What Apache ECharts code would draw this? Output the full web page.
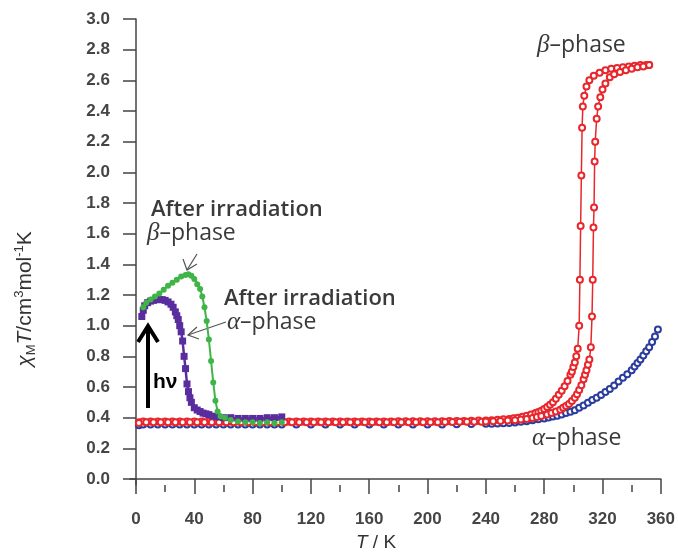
<!DOCTYPE html>
<html>
<head>
<meta charset="utf-8">
<script src="https://cdn.jsdelivr.net/npm/echarts@6/dist/echarts.min.js"></script>
<style>
  html, body { margin: 0; padding: 0; background: #fff; }
  #chart { width: 678px; height: 553px; }
</style>
</head>
<body>
<div id="chart"></div>
<script>
// tick positions
let xTicks = [0, 40, 80, 120, 160, 200, 240, 280, 320, 360];
let xMinorTicks = [20, 60, 100, 140, 180, 220, 260, 300, 340];
let yTicks = [0, 0.2, 0.4, 0.6, 0.8, 1.0, 1.2, 1.4, 1.6, 1.8, 2.0, 2.2, 2.4, 2.6, 2.8, 3.0];

// alpha-phase
let alphaT = [2, 5, 10, 15, 20, 25, 30, 35, 40, 45, 50, 55, 60, 65, 70, 75, 80, 85, 90, 95, 100, 110, 120, 130, 140, 150, 160, 170, 180, 190, 200, 210, 220, 230,
    240, 244, 248, 252, 256, 260, 264, 268, 272, 276, 280, 283, 286, 289, 292, 295, 298, 301, 304, 307, 310, 313, 316, 319, 322, 325, 328, 331, 334, 337, 340, 342, 344, 346, 348, 350, 352, 354, 356, 358];
let alphaChi = [0.35, 0.355, 0.355, 0.355, 0.355, 0.355, 0.355, 0.355, 0.355, 0.355, 0.355, 0.355, 0.355, 0.355, 0.355, 0.355, 0.355, 0.355, 0.355, 0.355, 0.355, 0.355, 0.355, 0.355, 0.355, 0.355, 0.355, 0.355, 0.355, 0.355, 0.356, 0.356, 0.357, 0.358,
    0.36, 0.361, 0.362, 0.364, 0.366, 0.369, 0.373, 0.377, 0.383, 0.39, 0.395, 0.401, 0.407, 0.413, 0.421, 0.43, 0.438, 0.449, 0.465, 0.48, 0.497, 0.515, 0.53, 0.548, 0.567, 0.587, 0.61, 0.636, 0.66, 0.684, 0.71, 0.733, 0.756, 0.78, 0.806, 0.833, 0.86, 0.893, 0.93, 0.975];

// beta-phase, cooling branch
let betaCoolT = [2, 5, 10, 15, 20, 25, 30, 35, 40, 45, 50, 55, 60, 65, 70, 75, 80, 85, 90, 95, 100, 105, 110, 115, 120, 125, 130, 135, 140, 145, 150, 155, 160, 165, 170, 175, 180, 185, 190, 195, 200, 205, 210, 215, 220, 225, 230, 235,
    240, 244, 248, 252, 256, 259, 262, 265, 268, 271, 274, 276, 278, 280, 282, 284, 286, 288, 290, 292, 294, 296, 298, 299, 300, 301, 302, 303,
    304, 304.5, 305, 305.5, 306, 306.5, 307.5, 309, 311, 314, 318, 322, 326, 330, 334, 338, 342, 346, 350, 352];
let betaCoolChi = [0.37, 0.375, 0.375, 0.375, 0.375, 0.375, 0.375, 0.375, 0.375, 0.375, 0.375, 0.375, 0.375, 0.375, 0.375, 0.375, 0.375, 0.375, 0.375, 0.375, 0.375, 0.375, 0.375, 0.375, 0.375, 0.375, 0.375, 0.375, 0.375, 0.375, 0.375, 0.375, 0.375, 0.375, 0.375, 0.375, 0.376, 0.376, 0.376, 0.376, 0.377, 0.377, 0.377, 0.378, 0.378, 0.379, 0.38, 0.381,
    0.382, 0.384, 0.386, 0.389, 0.392, 0.396, 0.40, 0.406, 0.413, 0.421, 0.43, 0.437, 0.445, 0.456, 0.47, 0.484, 0.50, 0.523, 0.55, 0.575, 0.605, 0.64, 0.68, 0.70, 0.73, 0.76, 0.80, 0.85,
    1.0, 1.3, 1.65, 1.98, 2.29, 2.43, 2.50, 2.56, 2.60, 2.63, 2.65, 2.665, 2.675, 2.68, 2.685, 2.69, 2.695, 2.70, 2.70, 2.70];

// beta-phase, heating branch
let betaHeatT = [2, 7, 12, 17, 22, 27, 32, 37, 42, 47, 52, 57, 62, 67, 72, 77, 82, 87, 92, 97, 102, 107, 112, 117, 122, 127, 132, 137, 142, 147, 152, 157, 162, 167, 172, 177, 182, 187, 192, 197, 202, 207, 212, 217, 222, 227, 232, 237,
    240, 245, 250, 255, 260, 264, 268, 272, 275, 278, 282, 285, 288, 291, 293, 295, 297, 299, 301, 302.5, 304, 305.5, 307, 308, 309, 310, 311, 312,
    312.8, 313.3, 313.8, 314.2, 314.6, 315, 316, 317, 318.5, 320, 322, 325, 328, 332, 336, 340, 344, 348, 352];
let betaHeatChi = [0.365, 0.37, 0.37, 0.37, 0.37, 0.37, 0.37, 0.37, 0.37, 0.37, 0.37, 0.37, 0.37, 0.37, 0.37, 0.37, 0.37, 0.37, 0.37, 0.37, 0.37, 0.37, 0.37, 0.37, 0.37, 0.37, 0.37, 0.37, 0.37, 0.37, 0.37, 0.37, 0.37, 0.37, 0.37, 0.37, 0.37, 0.37, 0.37, 0.37, 0.371, 0.371, 0.372, 0.372, 0.373, 0.373, 0.374, 0.374,
    0.375, 0.376, 0.378, 0.381, 0.384, 0.388, 0.392, 0.398, 0.405, 0.411, 0.42, 0.43, 0.44, 0.452, 0.465, 0.477, 0.49, 0.508, 0.53, 0.553, 0.58, 0.612, 0.65, 0.68, 0.71, 0.745, 0.78, 0.86,
    1.06, 1.3, 1.64, 1.77, 2.07, 2.2, 2.35, 2.43, 2.49, 2.54, 2.58, 2.62, 2.64, 2.655, 2.665, 2.675, 2.685, 2.69, 2.70];

// alpha-phase after irradiation
let alphaIrrT = [4, 5, 6, 8, 10, 12, 14, 16, 18, 20, 22, 24, 25.5, 27, 28, 29, 30, 31, 32, 33, 34, 35, 36, 37, 38, 40, 42, 44, 46, 48, 50, 53, 56, 60, 65, 70, 75, 80, 85, 90, 95, 100];
let alphaIrrChi = [1.06, 1.10, 1.13, 1.15, 1.16, 1.165, 1.17, 1.17, 1.17, 1.165, 1.155, 1.14, 1.12, 1.09, 1.065, 1.04, 1.0, 0.96, 0.90, 0.80, 0.72, 0.62, 0.57, 0.53, 0.50, 0.465, 0.45, 0.44, 0.43, 0.425, 0.42, 0.41, 0.405, 0.40, 0.40, 0.395, 0.395, 0.395, 0.395, 0.40, 0.40, 0.405];

// beta-phase after irradiation
let betaIrrT = [5, 7, 10, 13, 16, 19, 22, 25, 28, 31, 34, 36, 38, 40, 42, 44, 45.5, 47, 48.5, 50, 51.5, 53, 54.5, 56, 58, 61, 65, 70, 75, 80, 85, 90, 95, 100];
let betaIrrChi = [1.12, 1.15, 1.17, 1.19, 1.21, 1.235, 1.26, 1.28, 1.30, 1.32, 1.33, 1.335, 1.325, 1.305, 1.27, 1.24, 1.19, 1.12, 1.03, 0.91, 0.77, 0.63, 0.51, 0.44, 0.41, 0.40, 0.385, 0.375, 0.37, 0.37, 0.365, 0.37, 0.365, 0.37];

function zip(xs, ys) {
    let out = [];
    for (let i = 0; i < xs.length; i++) {
        out.push([xs[i], ys[i]]);
    }
    return out;
}

let axisColor = '#444';
let labelFont = {
    color: '#454545',
    fontSize: 17,
    fontWeight: 'bold',
    fontFamily: '"Liberation Sans", Arial, sans-serif'
};

function hollowSeries(name, data, color) {
    return {
        name: name,
        type: 'line',
        data: data,
        symbol: 'emptyCircle',
        symbolSize: 6,
        showSymbol: true,
        lineStyle: { color: color, width: 1.5 },
        itemStyle: { color: color, borderColor: color, borderWidth: 1.5 },
        animation: false
    };
}

let chart = echarts.init(document.getElementById('chart'));

let annoFont = '"Open Sans", "Noto Sans", sans-serif';
let greek = {
    fontFamily: '"Liberation Serif", serif',
    fontStyle: 'italic',
    fontSize: 25,
    fill: '#3a3a3a'
};
let phaseText = {
    fontFamily: annoFont,
    fontSize: 23,
    fill: '#3a3a3a'
};
let irrText = {
    fontFamily: annoFont,
    fontWeight: 600,
    fontSize: 22,
    fill: '#3a3a3a',
    verticalAlign: 'middle'
};

let option = {
    backgroundColor: '#fff',
    grid: { left: 130, right: 16, top: 19, bottom: 68 },
    xAxis: [{
        type: 'value',
        min: -4.1,
        max: 360,
        splitLine: { show: false },
        axisLine: { lineStyle: { color: axisColor, width: 1.5 } },
        axisTick: { customValues: xTicks, length: 15, lineStyle: { color: axisColor, width: 1.5 } },
        axisLabel: Object.assign({ customValues: xTicks, margin: 26 }, labelFont)
    }, {
        type: 'value',
        min: -4.1,
        max: 360,
        position: 'bottom',
        splitLine: { show: false },
        axisLine: { show: false },
        axisTick: { customValues: xMinorTicks, length: 7, lineStyle: { color: axisColor, width: 1.5 } },
        axisLabel: { show: false }
    }],
    yAxis: {
        type: 'value',
        min: -0.039,
        max: 3.0,
        splitLine: { show: false },
        axisLine: { lineStyle: { color: axisColor, width: 1.5 } },
        axisTick: { customValues: yTicks, length: 13, lineStyle: { color: axisColor, width: 1.5 } },
        axisLabel: Object.assign({
            customValues: yTicks,
            margin: 20,
            formatter: function (v) { return v.toFixed(1); }
        }, labelFont)
    },
    series: [
        hollowSeries('alpha-phase', zip(alphaT, alphaChi), '#2b3d9c'),
        hollowSeries('beta-phase cooling', zip(betaCoolT, betaCoolChi), '#e8262b'),
        hollowSeries('beta-phase heating', zip(betaHeatT, betaHeatChi), '#e8262b'),
        {
            name: 'alpha after irradiation',
            type: 'line',
            data: zip(alphaIrrT, alphaIrrChi),
            symbol: 'rect',
            symbolSize: 7,
            lineStyle: { color: '#5a2d9e', width: 2.5 },
            itemStyle: { color: '#5a2d9e' },
            animation: false
        },
        {
            name: 'beta after irradiation',
            type: 'line',
            data: zip(betaIrrT, betaIrrChi),
            symbol: 'circle',
            symbolSize: 6,
            lineStyle: { color: '#3fb548', width: 2 },
            itemStyle: { color: '#3fb548' },
            animation: false
        }
    ],
    graphic: [
        // axis titles
        {
            type: 'text', x: 25, y: 299, rotation: Math.PI / 2,
            style: {
                text: '{i|χ}{s|M}{i|T}{n|/cm}{u|3}{n|mol}{u|-1}{n|K}',
                align: 'center', verticalAlign: 'middle',
                rich: {
                    i: { fontFamily: '"Liberation Sans", sans-serif', fontStyle: 'italic', fontSize: 21, fill: '#333', lineHeight: 25 },
                    n: { fontFamily: '"Liberation Sans", sans-serif', fontSize: 21, fill: '#333', lineHeight: 25 },
                    s: { fontFamily: '"Liberation Sans", sans-serif', fontSize: 13, fill: '#333', verticalAlign: 'bottom', lineHeight: 25 },
                    u: { fontFamily: '"Liberation Sans", sans-serif', fontSize: 13, fill: '#333', verticalAlign: 'top', lineHeight: 25 }
                }
            }
        },
        {
            type: 'text', x: 376, y: 543,
            style: {
                text: '{i|T}{n| / K}',
                align: 'center', verticalAlign: 'middle',
                rich: {
                    i: { fontFamily: '"Liberation Sans", sans-serif', fontStyle: 'italic', fontSize: 19, fill: '#333' },
                    n: { fontFamily: '"Liberation Sans", sans-serif', fontSize: 19, fill: '#333' }
                }
            }
        },
        // annotations
        { type: 'text', x: 151, y: 210, style: Object.assign({ text: 'After irradiation' }, irrText) },
        {
            type: 'text', x: 147, y: 233,
            style: { text: '{g|β}{p|–phase}', verticalAlign: 'middle', rich: { g: greek, p: phaseText } }
        },
        { type: 'text', x: 224, y: 299, style: Object.assign({ text: 'After irradiation' }, irrText) },
        {
            type: 'text', x: 227, y: 322,
            style: { text: '{g|α}{p|–phase}', verticalAlign: 'middle', rich: { g: greek, p: phaseText } }
        },
        {
            type: 'text', x: 537, y: 45,
            style: { text: '{g|β}{p|–phase}', verticalAlign: 'middle', rich: { g: greek, p: phaseText } }
        },
        {
            type: 'text', x: 532, y: 438,
            style: { text: '{g|α}{p|–phase}', verticalAlign: 'middle', rich: { g: greek, p: phaseText } }
        },
        {
            type: 'text', x: 153, y: 382,
            style: { text: 'hν', fontFamily: '"Liberation Sans", sans-serif', fontWeight: 'bold', fontSize: 21, fill: '#000', verticalAlign: 'middle' }
        },
        // small pointer arrows
        { type: 'polyline', shape: { points: [[197, 254], [187, 270]] }, style: { stroke: '#555', lineWidth: 1.2, fill: null } },
        { type: 'polyline', shape: { points: [[183, 259], [187, 270], [197, 264]] }, style: { stroke: '#555', lineWidth: 1.2, fill: null } },
        { type: 'polyline', shape: { points: [[226, 322], [188, 335]] }, style: { stroke: '#555', lineWidth: 1.2, fill: null } },
        { type: 'polyline', shape: { points: [[197, 327], [188, 335], [199, 339]] }, style: { stroke: '#555', lineWidth: 1.2, fill: null } },
        // h-nu arrow
        { type: 'line', shape: { x1: 148, y1: 408, x2: 148, y2: 328 }, style: { stroke: '#000', lineWidth: 4 } },
        { type: 'polyline', shape: { points: [[138, 342], [148, 326], [158, 342]] }, style: { stroke: '#000', lineWidth: 4, fill: null } }
    ]
};
chart.setOption(option);
</script>
</body>
</html>
